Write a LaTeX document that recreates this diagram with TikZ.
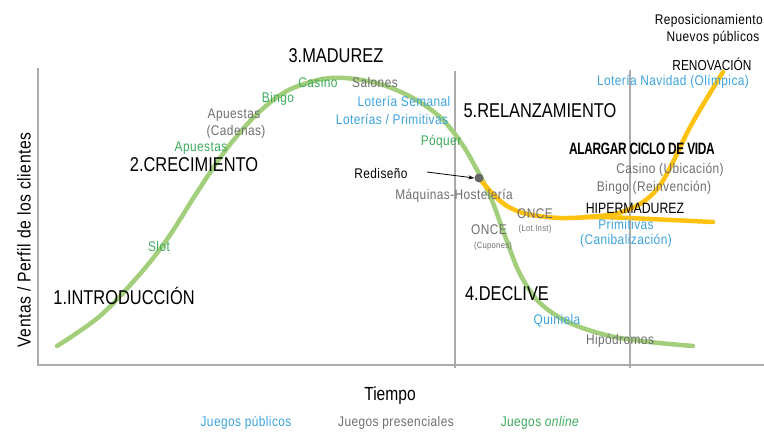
\documentclass[tikz,border=0pt]{standalone}
\usepackage{fontspec}
\setmainfont[FakeStretch=0.85,LetterSpace=3]{Liberation Sans}
\newfontfamily\bigf[FakeStretch=0.82]{Liberation Sans}
\newfontfamily\boldf[FakeStretch=0.72,LetterSpace=-2]{Liberation Sans}
\usetikzlibrary{arrows.meta}
\definecolor{gtext}{HTML}{3DAA5C}
\definecolor{btext}{HTML}{3CA3DC}
\definecolor{grtext}{HTML}{6E6E6E}
\definecolor{gcurve}{HTML}{A3CF7C}
\definecolor{ycurve}{HTML}{FFC20E}
\definecolor{axisc}{HTML}{ABABAB}
\begin{document}
\begin{tikzpicture}[x=1pt,y=-1pt,
  stage/.style={font=\bigf\fontsize{20}{20}\selectfont, text=black, inner sep=0pt},
  lbl/.style={font=\fontsize{14}{14}\selectfont, inner sep=0pt},
  tiny/.style={font=\fontsize{9}{9}\selectfont, inner sep=0pt, text=grtext},
  gl/.style={lbl, text=gtext},
  bl/.style={lbl, text=btext},
  gyl/.style={lbl, text=grtext},
  kl/.style={lbl, text=black},
  axisline/.style={draw=axisc, line width=1.2pt},
  curveg/.style={draw=gcurve, line width=4.5pt, line cap=round},
  curvey/.style={draw=ycurve, line width=4.5pt, line cap=round}]
\useasboundingbox (0,0) rectangle (764,432);
% axes and dividers
\coordinate (yt) at (38,68);
\coordinate (o) at (38,365);
\coordinate (xe) at (764,365);
\coordinate (d1t) at (455,71);
\coordinate (d1b) at (455,368);
\coordinate (d2t) at (630,70);
\coordinate (d2b) at (630,368);
\draw[axisline] (yt) -- (o) -- (xe);
\draw[axisline] (d1t) -- (d1b);
\draw[axisline] (d2t) -- (d2b);
% green curve
\draw[curveg] plot[smooth, tension=0.55] coordinates {(57,346) (100,316) (140,274) (168,238) (196,194) (225,151) (255,116) (285,92) (318,80) (345,78) (380,84) (413,98) (440,117) (460,141) (476,168) (491,198) (505,236) (520,274) (540,303) (570,323) (610,336) (650,342) (693,346)};
% yellow curves
\draw[curvey] plot[smooth, tension=0.55] coordinates {(479,178) (492,193) (507,206) (527,214) (560,218) (600,217) (650,219) (713,222)};
\draw[curvey] plot[smooth, tension=0.55] coordinates {(585,217) (615,214) (640,204) (658,188) (672,164) (688,131) (704,103) (723,72)};
% dot and arrow
\node[circle, fill=gray!80!black, minimum size=9pt, inner sep=0pt] (dot) at (479,178) {};
\node[kl] (redis) at (381,173) {Rediseño};
\coordinate (arrs) at (427,172);
\draw[-{Stealth[length=6pt,width=4pt]}, line width=0.8pt] (arrs) -- (dot.west);
% stage labels
\node[stage] (s1) at (124,296) {1.INTRODUCCIÓN};
\node[stage] (s2) at (194,165) {2.CRECIMIENTO};
\node[stage] (s3) at (336,56) {3.MADUREZ};
\node[stage] (s4) at (507,294) {4.DECLIVE};
\node[stage] (s5) at (540,111) {5.RELANZAMIENTO};
% upper right
\node[kl, anchor=east] (repo) at (763,21) {Reposicionamiento};
\node[kl] (nuevos) at (713,38) {Nuevos públicos};
\node[font=\bigf\fontsize{14.5}{14.5}\selectfont, inner sep=0pt] (renov) at (712,64) {RENOVACIÓN};
\node[bl] (lnav) at (673,82) {Lotería Navidad (Olímpica)};
\node[font=\boldf\bfseries\fontsize{16.5}{16.5}\selectfont, inner sep=0pt] (alargar) at (642,149) {ALARGAR CICLO DE VIDA};
\node[gyl] (casu) at (670,170) {Casino (Ubicación)};
\node[gyl] (bingr) at (654,188) {Bingo (Reinvención)};
\node[font=\bigf\fontsize{15}{15}\selectfont, inner sep=0pt] (hiper) at (635,208) {HIPERMADUREZ};
\node[bl] (prim) at (626,224) {Primitivas};
\node[bl] (canib) at (626,241) {(Canibalización)};
% growth / maturity labels
\node[gl] (slot) at (159,246) {Slot};
\node[gl] (apg) at (201,148) {Apuestas};
\node[gyl] (apc) at (234,115) {Apuestas};
\node[gyl] (cad) at (236,132) {(Cadenas)};
\node[gl] (bingo) at (278,99) {Bingo};
\node[gl] (casino) at (318,82) {Casino};
\node[gyl] (salones) at (375,82) {Salones};
\node[bl] (lsem) at (404,101) {Lotería Semanal};
\node[bl] (lprim) at (392,119) {Loterías / Primitivas};
\node[gl] (poquer) at (441,142) {Póquer};
\node[gyl] (maq) at (454,196) {Máquinas-Hostelería};
\node[gyl] (once1) at (535,214) {ONCE};
\node[tiny] (lotinst) at (535,229) {(Lot.Inst)};
\node[gyl] (once2) at (489,230) {ONCE};
\node[tiny] (cupones) at (493,246) {(Cupones)};
\node[bl] (quin) at (557,321) {Quiniela};
\node[gyl] (hipo) at (620,341) {Hipódromos};
% axis titles
\node[font=\fontsize{18.5}{18.5}\selectfont, inner sep=0pt, rotate=90] (ylab) at (24,240) {Ventas / Perfil de los clientes};
\node[font=\bigf\fontsize{19}{19}\selectfont, inner sep=0pt] (tiempo) at (390,396) {Tiempo};
% legend
\node[bl] (jpub) at (246,423) {Juegos públicos};
\node[gyl] (jpres) at (396,423) {Juegos presenciales};
\node[gl] (jonl) at (540,423) {Juegos \textit{online}};
\end{tikzpicture}
\end{document}
